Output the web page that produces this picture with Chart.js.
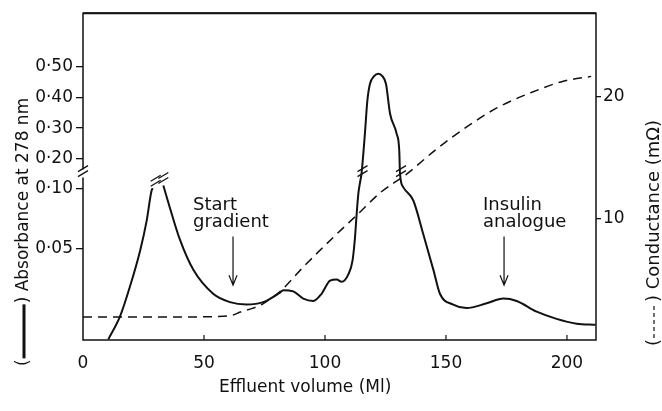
<!DOCTYPE html>
<html>
<head>
<meta charset="utf-8">
<script src="https://cdn.jsdelivr.net/npm/chart.js@4.4.0/dist/chart.umd.min.js"></script>
<style>
  html, body { margin: 0; padding: 0; background: #fff; }
  #chart { display: block; }
</style>
</head>
<body>
<canvas id="chart" width="662" height="411"></canvas>
<script>
// Absorbance trace (solid). null = cut at the axis break
const volume = [10.5, 15.3, 19.4, 23.6, 26.3, 28.3, 28.8, 31.0, 33.2, 35.9, 40.1, 45.6, 53.8, 60.7, 67.6, 74.5,
    81.4, 82.8, 86.9, 91.0, 95.2, 98.6, 102.1, 104.8, 106.9, 109.6, 111.4, 112.4, 113.1, 113.8, 114.5, 115.1,
    116.5, 117.5, 118.6, 120.3, 122.0, 123.7, 125.2, 126.9, 129.6, 130.7, 131.0, 132.4, 136.5, 140.6, 144.8,
    147.5, 153.0, 158.5, 166.8, 173.7, 179.2, 187.5, 195.7, 204.0, 211.8];
const absorbance = [-0.026, -0.007, 0.018, 0.048, 0.073, 0.098, 0.101, null, 0.110, 0.084, 0.057, 0.032, 0.012, 0.005, 0.003, 0.005,
    0.013, 0.015, 0.014, 0.008, 0.006, 0.012, 0.023, 0.024, 0.022, 0.028, 0.040, 0.059, 0.079, 0.096, 0.121, 0.150,
    0.282, 0.389, 0.445, 0.470, 0.478, 0.470, 0.445, 0.347, 0.282, 0.226, 0.150, 0.104, 0.090, 0.062, 0.032,
    0.012, 0.003, 0.000, 0.004, 0.008, 0.006, -0.003, -0.009, -0.013, -0.014];

// Conductance gradient (dashed)
const condVolume = [0, 20, 40, 58, 62, 65, 70, 74.5, 82, 91, 105, 113, 123, 134, 146, 159, 171, 185, 198.5, 210];
const conductance = [1.9, 1.9, 1.9, 1.95, 2.05, 2.3, 2.6, 3.0, 4.1, 6.0, 8.75, 10.25, 12.15, 13.7, 15.7, 17.6, 19.1, 20.35, 21.3, 21.7];

const volumeTicks = [0, 50, 100, 150, 200];
const absTicks = [0.05, 0.10, 0.20, 0.30, 0.40, 0.50];
const absTickLabels = ['0·05', '0·10', '0·20', '0·30', '0·40', '0·50'];
const condTicks = [10, 20];
const breakLevel = 0.15;

const notes = [
    { lines: ['Start', 'gradient'], volume: 62 },
    { lines: ['Insulin', 'analogue'], volume: 174 }
];

const FONT = '"DejaVu Sans", sans-serif';
const INK = '#111';

/**
 * Broken absorbance axis: a stretched lower part (0.05, 0.10),
 * a squeezed gap, then 0.20 - 0.50 above the break
 */
function toAxis(a) {
    if (a === null) return null;
    if (a <= 0.10) return 92 + (a - 0.05) * 1200;
    if (a <= 0.20) return 152 + (a - 0.10) * 300;
    return 182 + (a - 0.20) * 306.7;
}

function slash(ctx, cx, cy) {
    ctx.beginPath();
    ctx.moveTo(cx - 5, cy + 1); ctx.lineTo(cx + 5, cy - 5);
    ctx.moveTo(cx - 5, cy + 6); ctx.lineTo(cx + 5, cy);
    ctx.stroke();
}

const framePlugin = {
    id: 'frame',
    afterDraw(chart) {
        const { ctx, chartArea: area, scales } = chart;
        const xs = scales.x, ys = scales.y;
        const breakY = ys.getPixelForValue(toAxis(breakLevel));

        ctx.save();
        ctx.strokeStyle = INK;
        ctx.fillStyle = INK;

        // box round the plot, left axis cut at the break
        ctx.lineWidth = 1.5;
        ctx.beginPath();
        ctx.moveTo(area.left, breakY - 4);
        ctx.lineTo(area.left, area.top);
        ctx.lineTo(area.right, area.top);
        ctx.lineTo(area.right, area.bottom);
        ctx.lineTo(area.left, area.bottom);
        ctx.lineTo(area.left, breakY + 4);
        ctx.stroke();
        ctx.lineWidth = 2;
        ctx.beginPath();
        ctx.moveTo(area.left, area.top);
        ctx.lineTo(area.right, area.top);
        ctx.stroke();

        // inward ticks on the volume axis
        ctx.lineWidth = 1.2;
        volumeTicks.slice(1).forEach(v => {
            const px = xs.getPixelForValue(v);
            ctx.beginPath();
            ctx.moveTo(px, area.bottom);
            ctx.lineTo(px, area.bottom - 5);
            ctx.stroke();
        });

        // break marks
        ctx.lineWidth = 1.3;
        slash(ctx, area.left, breakY - 3);
        absorbance.forEach((a, i) => {
            if (a === null) {
                [i - 1, i + 1].forEach(j => {
                    slash(ctx, xs.getPixelForValue(volume[j]) + (j < i ? 3 : 0),
                        ys.getPixelForValue(toAxis(absorbance[j])) - 8);
                });
            } else if (a === breakLevel) {
                slash(ctx, xs.getPixelForValue(volume[i]) + 1, breakY - 3);
            }
        });

        // annotations with arrows
        const textDx = [-40, -21];
        ctx.font = '18px ' + FONT;
        ctx.textAlign = 'left';
        ctx.textBaseline = 'alphabetic';
        notes.forEach((n, k) => {
            const px = xs.getPixelForValue(n.volume);
            const top = ys.getPixelForValue(104);
            const tip = ys.getPixelForValue(55);
            n.lines.forEach((t, li) => ctx.fillText(t, px + textDx[k], 210 + li * 17));
            ctx.lineWidth = 1.2;
            ctx.beginPath();
            ctx.moveTo(px, top); ctx.lineTo(px, tip);
            ctx.moveTo(px - 4, tip - 10); ctx.lineTo(px, tip); ctx.lineTo(px + 4, tip - 10);
            ctx.stroke();
        });

        // x title
        ctx.font = '17px ' + FONT;
        ctx.fillText('Effluent volume (Ml)', 219, 392);

        // left title: (——) Absorbance at 278 nm
        ctx.save();
        ctx.translate(24, 366);
        ctx.rotate(-Math.PI / 2);
        ctx.font = '17px ' + FONT;
        ctx.textBaseline = 'middle';
        ctx.fillText('(', 0, 0);
        let w = ctx.measureText('(').width;
        ctx.lineWidth = 3;
        ctx.beginPath();
        ctx.moveTo(w + 1, 0); ctx.lineTo(w + 55, 0);
        ctx.stroke();
        ctx.fillText(') Absorbance at 278 nm', w + 56, 0);
        ctx.restore();

        // right title: (-----) Conductance (mΩ)
        ctx.save();
        ctx.translate(654, 346);
        ctx.rotate(-Math.PI / 2);
        ctx.font = '18px ' + FONT;
        ctx.textBaseline = 'middle';
        ctx.fillText('(', 0, 0);
        w = ctx.measureText('(').width;
        ctx.lineWidth = 1.2;
        ctx.setLineDash([4, 3]);
        ctx.beginPath();
        ctx.moveTo(w + 1, 0); ctx.lineTo(w + 36, 0);
        ctx.stroke();
        ctx.setLineDash([]);
        ctx.fillText(') Conductance (mΩ)', w + 37, 0);
        ctx.restore();

        ctx.restore();
    }
};

Chart.defaults.font.family = FONT;
Chart.defaults.color = INK;

new Chart(document.getElementById('chart'), {
    type: 'line',
    data: {
        datasets: [
            {
                label: 'Absorbance at 278 nm',
                data: volume.map((v, i) => ({ x: v, y: toAxis(absorbance[i]) })),
                borderColor: INK,
                borderWidth: 2,
                pointRadius: 0,
                cubicInterpolationMode: 'monotone',
                spanGaps: false,
                yAxisID: 'y'
            },
            {
                label: 'Conductance',
                data: condVolume.map((v, i) => ({ x: v, y: conductance[i] })),
                borderColor: INK,
                borderWidth: 1.5,
                borderDash: [9, 6],
                pointRadius: 0,
                cubicInterpolationMode: 'monotone',
                yAxisID: 'y2'
            }
        ]
    },
    options: {
        responsive: false,
        animation: false,
        devicePixelRatio: 1,
        layout: { padding: { top: 12, left: 0, right: 0, bottom: 0 } },
        plugins: { legend: { display: false }, tooltip: { enabled: false } },
        scales: {
            x: {
                type: 'linear',
                min: 0,
                max: 212,
                afterBuildTicks: s => { s.ticks = volumeTicks.map(v => ({ value: v })); },
                afterFit: s => { s.height = 71; },
                grid: { display: false },
                border: { display: false },
                ticks: { font: { size: 17 }, padding: 5, maxRotation: 0 }
            },
            y: {
                type: 'linear',
                position: 'left',
                min: 0,
                max: 328,
                afterBuildTicks: s => { s.ticks = absTicks.map(a => ({ value: toAxis(a) })); },
                afterFit: s => { s.width = 83; },
                grid: { display: true, drawOnChartArea: false, tickLength: 7, color: INK, lineWidth: 1.3 },
                border: { display: false },
                ticks: { font: { size: 17 }, padding: 3, callback: (v, i) => absTickLabels[i] }
            },
            y2: {
                type: 'linear',
                position: 'right',
                min: 0,
                max: 26.9,
                afterBuildTicks: s => { s.ticks = condTicks.map(c => ({ value: c })); },
                afterFit: s => { s.width = 66; },
                grid: { display: true, drawOnChartArea: false, tickLength: 5, color: INK, lineWidth: 1.3 },
                border: { display: false },
                ticks: { font: { size: 17 }, padding: 2, callback: v => String(v) }
            }
        }
    },
    plugins: [framePlugin]
});
</script>
</body>
</html>
